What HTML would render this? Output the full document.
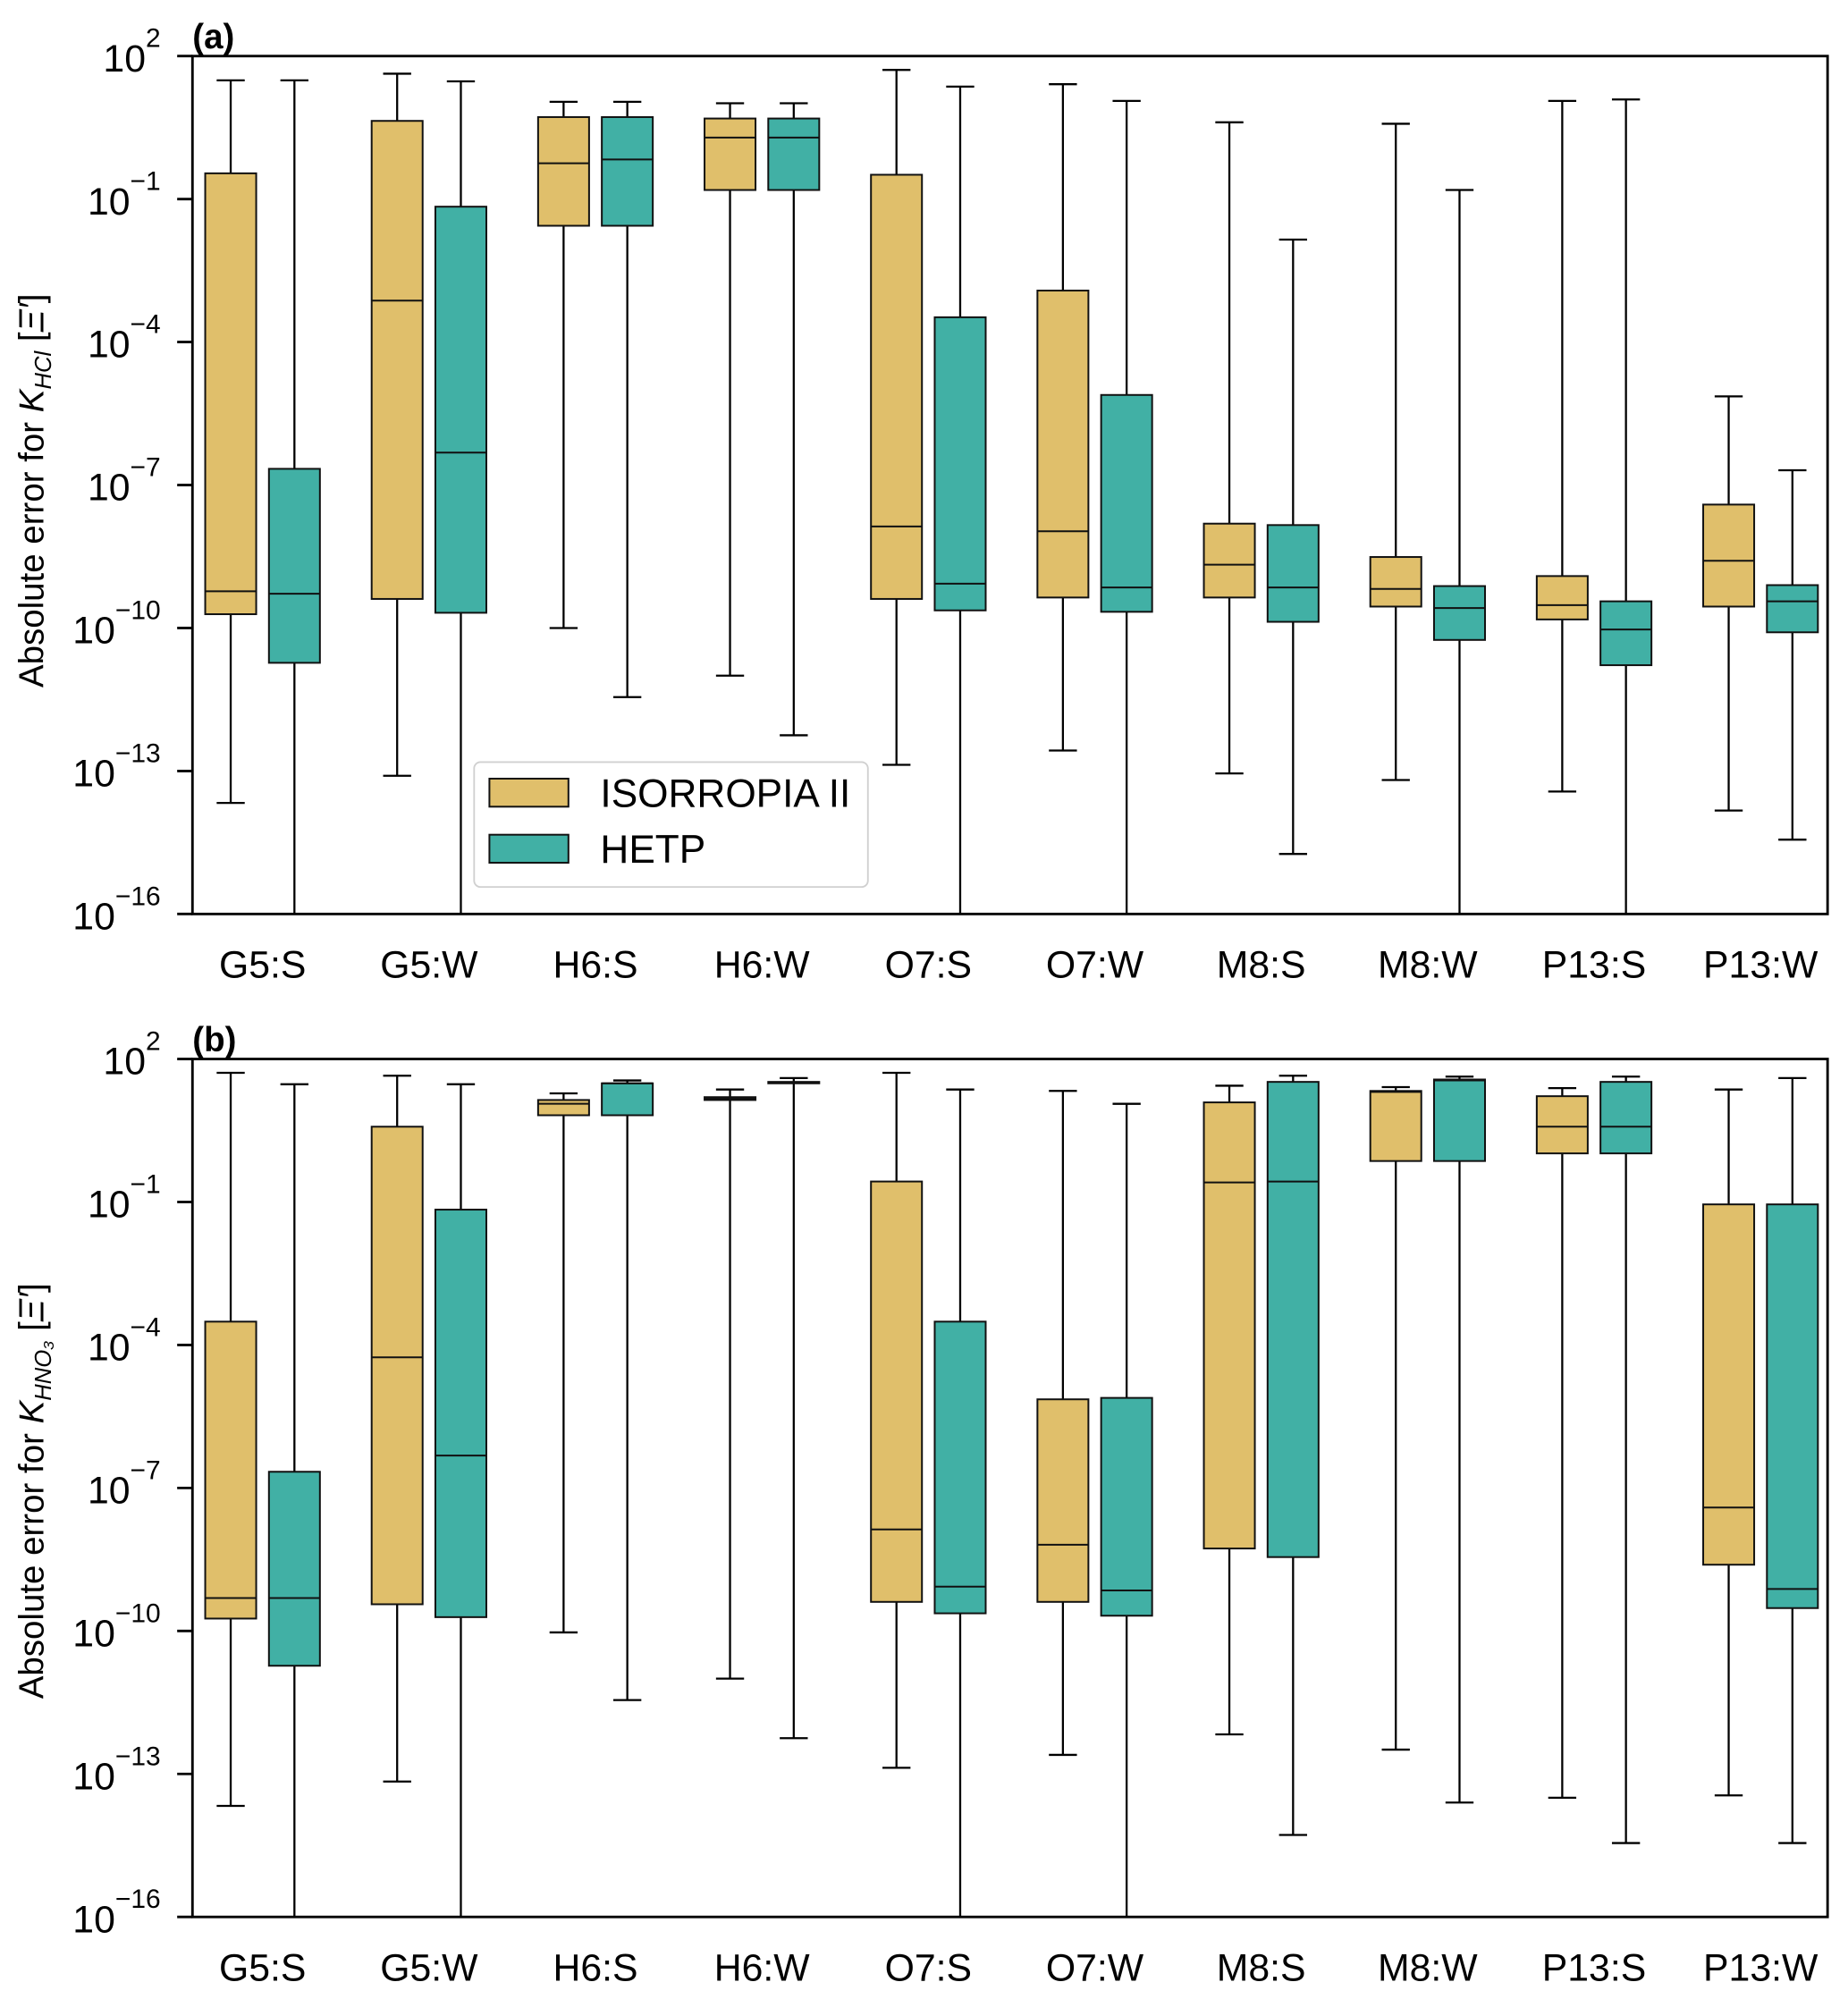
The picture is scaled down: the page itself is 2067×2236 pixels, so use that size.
<!DOCTYPE html>
<html><head><meta charset="utf-8"><style>
html,body{margin:0;padding:0;background:#fff;}
svg{display:block;font-family:"Liberation Sans",Arial,sans-serif;}
</style></head><body>
<svg id="chart" width="2067" height="2236" viewBox="0 0 1450 1568.6" xmlns="http://www.w3.org/2000/svg">
<rect x="0" y="0" width="1450" height="1568.6" fill="#fff"/>
</svg>
<script>
const categories=["G5:S","G5:W","H6:S","H6:W","O7:S","O7:W","M8:S","M8:W","P13:S","P13:W"];
const tickExps=[2,-1,-4,-7,-10,-13,-16];
// log10 values: [whiskerLow, Q1, median, Q3, whiskerHigh]
const hclIso=[[-13.67,-9.71,-9.23,-0.46,1.49],[-13.1,-9.39,-3.13,0.64,1.63],[-10.0,-1.56,-0.25,0.72,1.04],[-11.0,-0.81,0.29,0.69,1.01],[-12.87,-9.39,-7.87,-0.49,1.71],[-12.57,-9.36,-7.97,-2.92,1.41],[-13.05,-9.36,-8.67,-7.81,0.61],[-13.19,-9.55,-9.18,-8.51,0.58],[-13.43,-9.82,-9.52,-8.91,1.06],[-13.83,-9.55,-8.59,-7.41,-5.14]];
const hclHetp=[[-16.5,-10.73,-9.28,-6.66,1.49],[-16.5,-9.68,-6.32,-1.16,1.47],[-11.45,-1.56,-0.17,0.72,1.04],[-12.25,-0.81,0.29,0.69,1.01],[-16.5,-9.63,-9.07,-3.48,1.36],[-16.5,-9.66,-9.15,-5.11,1.06],[-14.74,-9.87,-9.15,-7.84,-1.85],[-16.5,-10.25,-9.58,-9.12,-0.81],[-16.5,-10.78,-10.03,-9.44,1.09],[-14.44,-10.09,-9.44,-9.1,-6.69]];
const hno3Iso=[[-13.67,-9.74,-9.31,-3.51,1.71],[-13.16,-9.44,-4.26,0.58,1.65],[-10.03,0.82,1.06,1.14,1.28],[-11.0,1.14,1.17,1.2,1.36],[-12.87,-9.39,-7.87,-0.57,1.71],[-12.6,-9.39,-8.19,-5.14,1.33],[-12.17,-8.27,-0.59,1.09,1.44],[-12.49,-0.14,1.31,1.33,1.41],[-13.5,0.02,0.58,1.22,1.39],[-13.45,-8.61,-7.41,-1.05,1.36]];
const hno3Hetp=[[-16.5,-10.73,-9.31,-6.66,1.47],[-16.5,-9.71,-6.32,-1.16,1.47],[-11.45,0.82,1.49,1.49,1.55],[-12.25,1.49,1.5,1.52,1.6],[-16.5,-9.63,-9.07,-3.51,1.36],[-16.5,-9.68,-9.15,-5.11,1.06],[-14.28,-8.45,-0.57,1.52,1.65],[-13.6,-0.14,1.55,1.57,1.63],[-14.45,0.02,0.58,1.52,1.63],[-14.45,-9.52,-9.12,-1.05,1.6]];

const NS="http://www.w3.org/2000/svg";
const svg=document.getElementById('chart');
const L=151,R=1434,DEC=37.4;
const YEL="#E0BF6B",TEAL="#41B0A5";
function xC(i){return 206+130.6*i;}
function mk(tag,attrs,parent){const e=document.createElementNS(NS,tag);for(const k in attrs)e.setAttribute(k,attrs[k]);(parent||svg).appendChild(e);return e;}

function panel(top,letter,isoData,hetpData,sub,cy){
  const bottom=top+18*DEC;
  const yS=e=>top+(2-Math.max(e,-16))*DEC;
  const g=mk('g',{});
  
  
  function box(d,cx,color,name){
    const bg=mk('g',{},g);
    
    
    const [lo,q1,md,q3,hi]=d;
    mk('line',{x1:cx,x2:cx,y1:yS(hi),y2:yS(q3),stroke:'#000','stroke-width':1.6},bg);
    mk('line',{x1:cx,x2:cx,y1:yS(q1),y2:yS(lo),stroke:'#000','stroke-width':1.6},bg);
    mk('line',{x1:cx-11,x2:cx+11,y1:yS(hi),y2:yS(hi),stroke:'#000','stroke-width':1.6},bg);
    if(lo>-16) mk('line',{x1:cx-11,x2:cx+11,y1:yS(lo),y2:yS(lo),stroke:'#000','stroke-width':1.6},bg);
    mk('rect',{x:cx-20,y:yS(q3),width:40,height:Math.max(yS(q1)-yS(q3),0.5),fill:color,stroke:'#111','stroke-width':1.4},bg);
    mk('line',{x1:cx-20,x2:cx+20,y1:yS(md),y2:yS(md),stroke:'#111','stroke-width':1.4},bg);
  }
  categories.forEach((c,i)=>{
    box(isoData[i],xC(i)-25,YEL,'isorropia-box-'+c.toLowerCase().replace(':','-'));
    box(hetpData[i],xC(i)+25,TEAL,'hetp-box-'+c.toLowerCase().replace(':','-'));
    const t=mk('text',{x:xC(i),y:bottom+50,'font-size':30,'text-anchor':'middle'},g);
    t.textContent=c;
    
    
  });
  mk('rect',{x:L,y:top,width:R-L,height:bottom-top,fill:'none',stroke:'#000','stroke-width':2},g);
  tickExps.forEach(e=>{
    const y=yS(e);
    mk('line',{x1:L-12,x2:L,y1:y,y2:y,stroke:'#000','stroke-width':2},g);
    const t=mk('text',{x:126,y:y+12,'font-size':30,'text-anchor':'end'},g);
    
    
    t.innerHTML='10<tspan font-size="21" dy="-19">'+(e<0?'\u2212'+(-e):''+e)+'</tspan>';
  });
  const pl=mk('text',{x:151,y:top-6,'font-size':27,'font-weight':'bold'},g);
  pl.textContent='('+letter+')';
  
  
  const yl=mk('text',{x:0,y:0,'font-size':27,'text-anchor':'middle',transform:'translate(34,'+cy+') rotate(-90)'},g);
  
  
  yl.innerHTML='Absolute error for <tspan font-style="italic">K</tspan><tspan font-style="italic" font-size="18" dy="6">'+sub+'</tspan><tspan dy="-6"> [</tspan><tspan font-style="italic">\u039E\u2032</tspan>]';
}
panel(44,'a',hclIso,hclHetp,'HCl',385);
panel(831,'b',hno3Iso,hno3Hetp,'HNO\u2083',1170);

// legend
const lg=mk('g',{});


mk('rect',{x:372,y:598,width:309,height:98,rx:5,fill:'#fff',stroke:'#d0d0d0','stroke-width':1.3},lg);
const e1=mk('g',{},lg);


mk('rect',{x:384,y:611,width:62,height:22,fill:YEL,stroke:'#111','stroke-width':1.4},e1);
const t1=mk('text',{x:471,y:633,'font-size':31},e1);t1.textContent='ISORROPIA II';
const e2=mk('g',{},lg);


mk('rect',{x:384,y:655,width:62,height:22,fill:TEAL,stroke:'#111','stroke-width':1.4},e2);
const t2=mk('text',{x:471,y:677,'font-size':31},e2);t2.textContent='HETP';
</script>
</body></html>
